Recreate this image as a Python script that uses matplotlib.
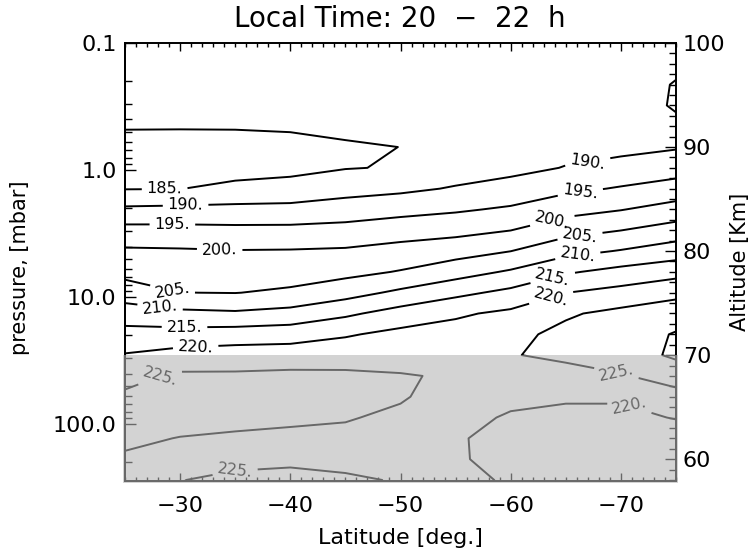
import matplotlib.pyplot as plt
import matplotlib.transforms as mtransforms
from matplotlib.patches import Rectangle
from matplotlib.ticker import MultipleLocator, FixedLocator, FixedFormatter
import numpy as np

# grade de temperatura (K): colunas = latitude, linhas = altitude
lats = [-25, -30, -35, -40, -45, -50, -55, -60, -65, -70, -75]
alts = [56, 58, 60, 62, 64, 66, 68, 70, 72, 74, 76, 78,
        80, 82, 84, 86, 88, 90, 92, 94, 96, 98, 100]
temps = [
    [223.5, 225.2, 226.0, 226.2, 226.0, 224.8, 221.5, 219.8, 217.0, 216.5, 216.0],   # 56
    [224.0, 224.95, 225.4, 225.6, 225.4, 224.8, 220.7, 219.7, 217.2, 216.8, 216.3],  # 58
    [224.6, 224.5, 224.5, 224.6, 224.2, 224.0, 220.3, 219.15, 217.6, 217.2, 216.8],  # 60
    [225.6, 224.9, 224.6, 224.4, 224.0, 223.6, 220.4, 218.7, 218.3, 218.0, 218.0],   # 62
    [226.8, 226.2, 225.8, 225.5, 225.3, 224.2, 222.0, 219.3, 219.4, 219.0, 220.2],   # 64
    [225.8, 226.6, 226.6, 226.4, 226.0, 225.4, 223.2, 221.6, 220.3, 220.5, 223.8],   # 66
    [223.5, 225.8, 225.7, 226.0, 225.8, 225.3, 224.55, 223.6, 223.6, 224.7, 226.5],  # 68
    [220.3, 221.8, 222.4, 222.6, 223.0, 223.1, 222.9, 224.8, 225.8, 227.0, 231.0],   # 70
    [216.7, 216.9, 217.4, 217.8, 219.5, 221.3, 221.9, 223.8, 226.2, 227.3, 230.4],   # 72
    [212.5, 211.2, 210.7, 211.7, 214.1, 217.0, 219.3, 221.0, 224.4, 226.3, 227.5],   # 74
    [207.5, 205.05, 204.9, 205.8, 208.1, 211.0, 213.75, 216.25, 219.95, 221.6, 223.8],  # 76
    [203.5, 202.7, 202.6, 202.8, 203.6, 205.3, 207.9, 210.6, 214.4, 216.6, 218.2],   # 78
    [200.7, 200.5, 200.2, 200.3, 200.6, 201.7, 203.0, 204.95, 208.4, 210.3, 212.5],  # 80
    [196.6, 196.5, 196.25, 196.25, 196.7, 197.8, 198.5, 199.95, 203.2, 204.95, 207.1],  # 82
    [190.9, 191.2, 191.3, 191.5, 192.3, 193.4, 194.4, 195.65, 198.2, 199.8, 202.0],  # 84
    [184.8, 184.9, 186.25, 186.6, 188.2, 189.0, 190.4, 191.85, 193.9, 195.4, 197.0],  # 86
    [183.0, 182.8, 183.0, 183.8, 184.8, 185.3, 187.6, 188.6, 190.2, 191.7, 192.9],   # 88
    [183.5, 183.3, 183.5, 184.0, 184.6, 185.02, 187.0, 187.4, 188.5, 188.6, 189.6],  # 90
    [185.3, 185.3, 185.3, 185.4, 185.8, 186.0, 187.0, 187.3, 188.0, 188.3, 189.2],   # 92
    [186.2, 186.2, 186.2, 186.3, 186.6, 186.8, 187.4, 187.6, 188.2, 188.0, 190.4],   # 94
    [187.0, 186.9, 186.9, 187.0, 187.2, 187.3, 187.7, 187.9, 188.5, 187.6, 190.3],   # 96
    [187.6, 187.5, 187.5, 187.5, 187.7, 187.7, 188.0, 188.2, 188.8, 188.0, 189.0],   # 98
    [188.0, 188.0, 188.0, 188.0, 188.1, 188.1, 188.3, 188.5, 189.0, 188.4, 188.8],   # 100
]
niveis = [185, 190, 195, 200, 205, 210, 215, 220, 225, 230]

# onde ficam os rotulos das isotermas (lat, alt)
pos_rotulos = [(-28.6, 85.9), (-30.5, 84.3), (-29.3, 82.7), (-33.6, 80.5),
               (-29.3, 76.2), (-28.2, 74.8), (-30.4, 72.8), (-31.4, 71.1),
               (-67.0, 88.5), (-66.3, 85.8), (-63.8, 82.8), (-66.3, 81.3),
               (-66.1, 79.4), (-63.8, 77.5), (-63.6, 75.8),
               (-28.2, 67.8), (-35.0, 58.75), (-69.6, 68.3), (-70.8, 65.1)]

p_ticks = [0.1, 1.0, 10.0, 100.0]
p_labels = ['0.1', '1.0', '10.0', '100.0']
p_minor = [0.2, 0.3, 0.4, 0.5, 0.6, 0.7, 0.8, 0.9,
           2, 3, 4, 5, 6, 7, 8, 9,
           20, 30, 40, 50, 60, 70, 80, 90, 200]
alt_ticks = [60, 70, 80, 90, 100]
lat_ticks = [-30, -40, -50, -60, -70]

KM_DECADA = 12.21
alt_min, alt_max = 57.9, 100.0
alt_cinza = 70.0


def alt_para_p(z):
    return 0.1 * 10 ** ((100 - np.asarray(z, dtype=float)) / KM_DECADA)


def p_para_alt(p):
    return 100 - KM_DECADA * np.log10(np.clip(np.asarray(p, dtype=float), 1e-6, None) / 0.1)


plt.rcParams['font.family'] = 'DejaVu Sans'

fig = plt.figure(figsize=(7.56, 5.52), dpi=100)
ax = fig.add_axes([125 / 756, 1 - 481 / 552, 551 / 756, 438 / 552])

cs = ax.contour(lats, alts, np.array(temps), levels=niveis, colors='black', linewidths=1.4)
ax.clabel(cs, fmt='%d.', fontsize=11.5, manual=pos_rotulos, inline=True, inline_spacing=5)

ax.set_xlim(-25, -75)
ax.set_ylim(alt_min, alt_max)

# eixo x
ax.set_xticks(lat_ticks)
ax.xaxis.set_minor_locator(MultipleLocator(1))
ax.tick_params(axis='x', which='both', direction='in', top=True, bottom=True,
               labelsize=16, pad=11, width=1.0)
ax.tick_params(axis='x', which='major', length=6)
ax.tick_params(axis='x', which='minor', length=3)

# altitude a direita
ax.yaxis.tick_right()
ax.set_yticks(alt_ticks)
ax.yaxis.set_minor_locator(MultipleLocator(1))
ax.tick_params(axis='y', which='both', direction='in', left=False, right=True,
               labelright=True, labelleft=False, labelsize=16, pad=5, width=1.0)
ax.tick_params(axis='y', which='major', length=8)
ax.tick_params(axis='y', which='minor', length=5)

# pressao a esquerda
sec = ax.secondary_yaxis('left', functions=(alt_para_p, p_para_alt))
sec.yaxis.set_major_locator(FixedLocator(p_ticks))
sec.yaxis.set_major_formatter(FixedFormatter(p_labels))
sec.yaxis.set_minor_locator(FixedLocator(p_minor))
sec.tick_params(axis='y', which='both', direction='in', labelsize=16, pad=6, width=1.0)
sec.tick_params(axis='y', which='major', length=8)
sec.tick_params(axis='y', which='minor', length=5)
sec.spines['left'].set_linewidth(1.4)

for s in ax.spines.values():
    s.set_linewidth(1.4)

# faixa cinza (abaixo de 70 km)
trans = mtransforms.blended_transform_factory(ax.transAxes, ax.transData)
cinza = Rectangle((-0.004, alt_min - 0.2), 1.008, alt_cinza - alt_min + 0.2,
                  transform=trans, facecolor='#b4b4b4', alpha=0.58,
                  edgecolor='none', zorder=10, clip_on=False)
ax.add_patch(cinza)

fig.text(400 / 756, 1 - 19 / 552, 'Local Time: 20  \u2212  22  h', ha='center', va='center', fontsize=20)
fig.text(400 / 756, 1 - 538 / 552, 'Latitude [deg.]', ha='center', va='center', fontsize=16)
fig.text(20 / 756, 1 - 268 / 552, 'pressure, [mbar]', ha='center', va='center',
         rotation=90, fontsize=15)
fig.text(740 / 756, 1 - 262 / 552, 'Altitude [Km]', ha='center', va='center',
         rotation=90, fontsize=15)

fig.savefig('out.png', dpi=100)
